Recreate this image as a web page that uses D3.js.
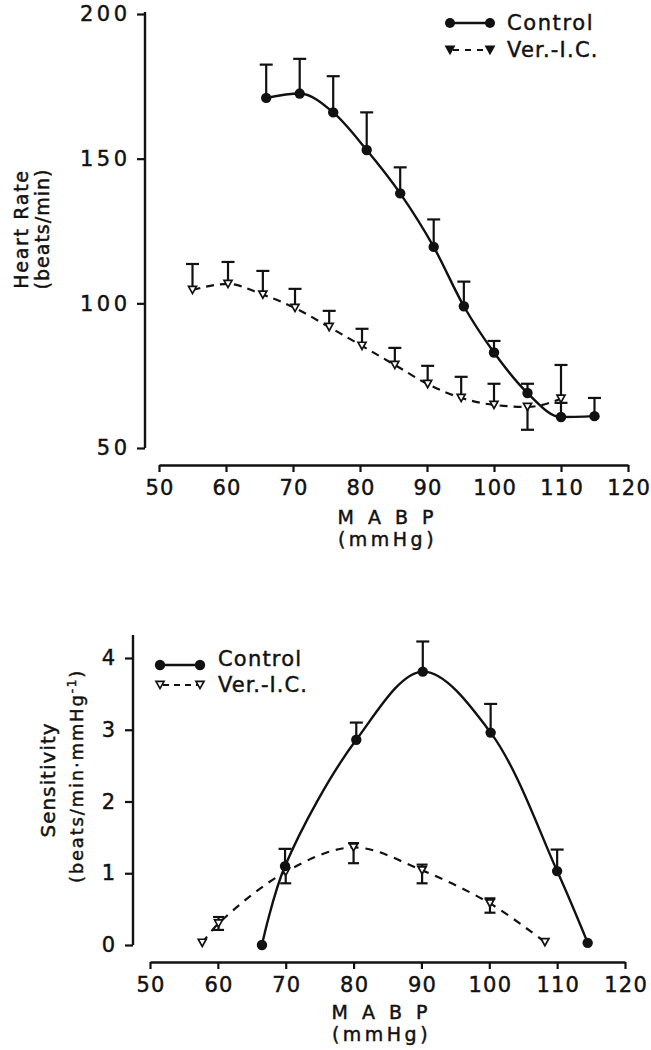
<!DOCTYPE html>
<html><head><meta charset="utf-8">
<script src="https://cdn.jsdelivr.net/npm/d3@7"></script>
<style>
html,body{margin:0;padding:0;background:#fff;}
text{font-family:"DejaVu Sans",sans-serif;fill:#111;stroke:#111;stroke-width:0.45px;}
</style></head>
<body>
<svg id="c" width="651" height="1050"></svg>
<script>
// ---------- DATA ----------
// Top panel: Heart Rate (beats/min) vs MABP (mmHg)
const hrControlX   = [66, 71, 76, 81, 86, 91, 95.5, 100, 105, 110, 115];
const hrControlY   = [171, 172.5, 166, 153, 138, 119.5, 99, 83, 69, 60.7, 61];
const hrControlErr = [182.5, 184.5, 178.5, 166, 147, 129, 107.5, 87, 72.2, 65.6, 67.3];

const hrVerX   = [55, 60.3, 65.5, 70.3, 75.4, 80.3, 85.2, 90.1, 95.1, 100, 105, 110];
const hrVerY   = [104.6, 106.7, 103, 98.4, 91.8, 85.3, 78.7, 72.1, 67.3, 64.9, 64.2, 67];
const hrVerErr = [113.6, 114.3, 111.2, 105, 97.4, 91.2, 84.6, 78.4, 74.6, 72.2, 56.3, 78.7];

const hrXTicks = [50, 60, 70, 80, 90, 100, 110, 120];
const hrYTicks = [50, 100, 150, 200];

// Bottom panel: Sensitivity (beats/min·mmHg-1) vs MABP (mmHg)
const sControlX   = [66.5, 69.9, 80.4, 90.2, 100.2, 110, 114.5];
const sControlY   = [0, 1.1, 2.86, 3.81, 2.96, 1.03, 0.03];
const sControlErr = [null, 1.34, 3.10, 4.23, 3.36, 1.33, null];

const sVerX     = [57.7, 60.1, 70, 80, 90.1, 100.1, 108.2];
const sVerY     = [0.03, 0.30, 1.02, 1.36, 1.04, 0.58, 0.04];
const sVerErrHi = [null, 0.39, null, 1.42, 1.12, 0.65, null];
const sVerErrLo = [null, 0.21, 0.86, 1.14, 0.86, 0.45, null];

const sXTicks = [50, 60, 70, 80, 90, 100, 110, 120];
const sYTicks = [0, 1, 2, 3, 4];

const seriesNames = ["Control", "Ver.-I.C."];

// ---------- DRAW ----------
const svg = d3.select("#c");
const INK = "#111";

function circle(g, x, y, r) {
  g.append("circle").attr("cx", x).attr("cy", y).attr("r", r).attr("fill", INK);
}
function tri(g, x, y, s, filled) {
  const h = s * 0.9;
  g.append("path")
    .attr("d", `M${x - s / 2},${y - h / 2}L${x + s / 2},${y - h / 2}L${x},${y + h / 2}Z`)
    .attr("fill", filled ? INK : "#fff").attr("stroke", INK).attr("stroke-width", 1.7);
}
function errBar(g, x, y0, y1, cap) {
  g.append("line").attr("x1", x).attr("x2", x).attr("y1", y0).attr("y2", y1)
    .attr("stroke", INK).attr("stroke-width", 2.2);
  g.append("line").attr("x1", x - cap / 2).attr("x2", x + cap / 2).attr("y1", y1).attr("y2", y1)
    .attr("stroke", INK).attr("stroke-width", 2.2);
}

function panel(cfg) {
  const g = svg.append("g");
  const x = d3.scaleLinear().domain([50, 120]).range(cfg.xr);
  const y = d3.scaleLinear().domain(cfg.yd).range(cfg.yr);

  // Y axis
  const ya = g.append("g").attr("transform", `translate(${cfg.yAxisX},0)`)
    .call(d3.axisLeft(y).tickValues(cfg.yTicks).tickFormat(d3.format("d"))
      .tickSize(8).tickSizeOuter(0).tickPadding(10));
  ya.select(".domain").remove();
  ya.append("line").attr("x1", 0).attr("x2", 0).attr("y1", cfg.yAxisTop).attr("y2", y(cfg.yd[0]))
    .attr("stroke", INK).attr("stroke-width", 2.4);
  ya.selectAll(".tick line").attr("stroke", INK).attr("stroke-width", 2.2);
  ya.selectAll(".tick text").style("font-size", "21px").style("letter-spacing", "3.5px")
    .attr("dx", "3.5px").attr("fill", INK);

  // X axis
  const xa = g.append("g").attr("transform", `translate(0,${cfg.xAxisY})`)
    .call(d3.axisBottom(x).tickValues(cfg.xTicks).tickFormat(d3.format("d"))
      .tickSize(7).tickSizeOuter(0).tickPadding(8));
  xa.select(".domain").attr("stroke", INK).attr("stroke-width", 2.4);
  xa.selectAll(".tick line").attr("stroke", INK).attr("stroke-width", 2.2);
  xa.selectAll(".tick text").style("font-size", "21px").style("letter-spacing", "1.2px")
    .attr("dx", "0.6px").attr("fill", INK);

  // X title
  const xc = (cfg.xr[0] + cfg.xr[1]) / 2 - 6;
  g.append("text").attr("x", xc).attr("y", cfg.xTitleY).attr("text-anchor", "middle")
    .style("font-size", "19px").style("letter-spacing", "4px").text("M A B P");
  g.append("text").attr("x", xc).attr("y", cfg.xTitleY + 22).attr("text-anchor", "middle")
    .style("font-size", "19px").style("letter-spacing", "3.5px").text("(mmHg)");

  // Y title
  cfg.yTitles.forEach(t => {
    const tt = g.append("text").attr("transform", `translate(${t.x},${t.y}) rotate(-90)`)
      .attr("text-anchor", "middle").style("font-size", t.size + "px").style("letter-spacing", t.ls + "px");
    if (t.sup) {
      tt.append("tspan").text(t.text);
      tt.append("tspan").attr("baseline-shift", "super").style("font-size", "12px").text(t.sup);
      tt.append("tspan").text(")");
    } else tt.text(t.text);
  });

  return { g, x, y };
}

// ---- Top panel ----
const topPanel = panel({
  xr: [159, 628], yd: [50, 200], yr: [448, 14], yAxisX: 145, yAxisTop: 12, xAxisY: 465,
  xTicks: hrXTicks, yTicks: hrYTicks, xTitleY: 524,
  yTitles: [
    { x: 28, y: 229, text: "Heart Rate", size: 19, ls: 1.7 },
    { x: 49, y: 229, text: "(beats/min)", size: 19, ls: 1 }
  ]
});
{
  const { g, x, y } = topPanel;
  const lc = d3.line().x(d => x(d[0])).y(d => y(d[1])).curve(d3.curveMonotoneX);
  const cPts = hrControlX.map((v, i) => [v, hrControlY[i]]);
  const vPts = hrVerX.map((v, i) => [v, hrVerY[i]]);
  g.append("path").attr("d", lc(vPts)).attr("fill", "none").attr("stroke", INK)
    .attr("stroke-width", 2.2).attr("stroke-dasharray", "8,6");
  g.append("path").attr("d", lc(cPts)).attr("fill", "none").attr("stroke", INK).attr("stroke-width", 2.4);
  hrVerX.forEach((v, i) => {
    if (hrVerErr[i] != null) errBar(g, x(v), y(hrVerY[i]), y(hrVerErr[i]), 13);
    tri(g, x(v), y(hrVerY[i]), 8, false);
  });
  hrControlX.forEach((v, i) => {
    if (hrControlErr[i] != null) errBar(g, x(v), y(hrControlY[i]), y(hrControlErr[i]), 13);
    circle(g, x(v), y(hrControlY[i]), 5.2);
  });
  // legend
  const L = g.append("g");
  L.append("line").attr("x1", 450).attr("x2", 490).attr("y1", 23).attr("y2", 23).attr("stroke", INK).attr("stroke-width", 2.4);
  circle(L, 450, 23, 5); circle(L, 490, 23, 5);
  L.append("line").attr("x1", 450).attr("x2", 490).attr("y1", 50).attr("y2", 50).attr("stroke", INK)
    .attr("stroke-width", 2.2).attr("stroke-dasharray", "6,6").attr("stroke-dashoffset", -3);
  tri(L, 450, 50, 8, true); tri(L, 490, 50, 8, true);
  L.append("text").attr("x", 507).attr("y", 30).style("font-size", "21px").style("letter-spacing", "1.6px").text(seriesNames[0]);
  L.append("text").attr("x", 507).attr("y", 57).style("font-size", "21px").style("letter-spacing", "1.2px").text(seriesNames[1]);
}

// ---- Bottom panel ----
const botPanel = panel({
  xr: [150, 625], yd: [0, 4], yr: [945, 658], yAxisX: 133, yAxisTop: 635, xAxisY: 962,
  xTicks: sXTicks, yTicks: sYTicks, xTitleY: 1019,
  yTitles: [
    { x: 55, y: 780, text: "Sensitivity", size: 20, ls: 1 },
    { x: 83, y: 776, text: "(beats/min·mmHg", sup: "-1", size: 18, ls: 1.8 }
  ]
});
{
  const { g, x, y } = botPanel;
  const lc = d3.line().x(d => x(d[0])).y(d => y(d[1])).curve(d3.curveCatmullRom.alpha(0.5));
  const cPts = sControlX.map((v, i) => [v, sControlY[i]]);
  const vPts = sVerX.map((v, i) => [v, sVerY[i]]);
  g.append("path").attr("d", lc(vPts)).attr("fill", "none").attr("stroke", INK)
    .attr("stroke-width", 2.2).attr("stroke-dasharray", "8,7");
  g.append("path").attr("d", lc(cPts)).attr("fill", "none").attr("stroke", INK).attr("stroke-width", 2.4);
  sVerX.forEach((v, i) => {
    if (sVerErrHi[i] != null) errBar(g, x(v), y(sVerY[i]), y(sVerErrHi[i]), 11);
    if (sVerErrLo[i] != null) errBar(g, x(v), y(sVerY[i]), y(sVerErrLo[i]), 11);
    tri(g, x(v), y(sVerY[i]), 8, false);
  });
  sControlX.forEach((v, i) => {
    if (sControlErr[i] != null) errBar(g, x(v), y(sControlY[i]), y(sControlErr[i]), 13);
    circle(g, x(v), y(sControlY[i]), 5.2);
  });
  const L = g.append("g");
  L.append("line").attr("x1", 160).attr("x2", 200).attr("y1", 665).attr("y2", 665).attr("stroke", INK).attr("stroke-width", 2.4);
  circle(L, 160, 665, 5.2); circle(L, 200, 665, 5.2);
  L.append("line").attr("x1", 160).attr("x2", 200).attr("y1", 685).attr("y2", 685).attr("stroke", INK)
    .attr("stroke-width", 2.2).attr("stroke-dasharray", "6,5").attr("stroke-dashoffset", -3);
  tri(L, 160, 685, 8, false); tri(L, 200, 685, 8, false);
  L.append("text").attr("x", 218).attr("y", 666).style("font-size", "21px").style("letter-spacing", "1.2px").text(seriesNames[0]);
  L.append("text").attr("x", 218).attr("y", 692).style("font-size", "21px").style("letter-spacing", "1px").text(seriesNames[1]);
}
</script>
</body></html>
